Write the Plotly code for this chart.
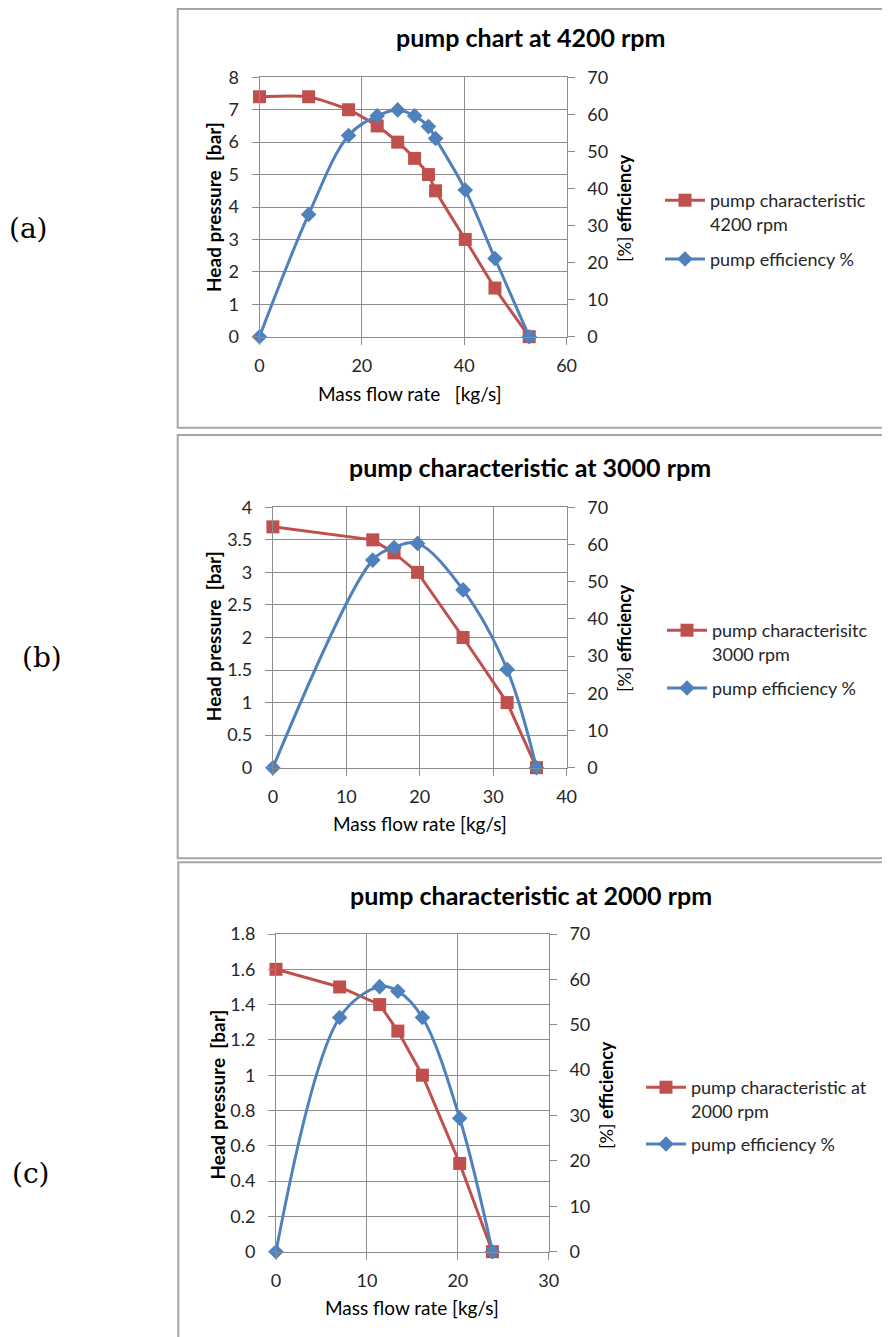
import plotly.graph_objects as go

# ---------------- data ----------------
flow_a = [0, 9.6, 17.4, 23.0, 27.0, 30.3, 33.0, 34.4, 40.2, 46.0, 52.7]
head_a = [7.4, 7.4, 7.0, 6.5, 6.0, 5.5, 5.0, 4.5, 3.0, 1.5, 0]
eff_a = [0, 33, 54.3, 59.6, 61.2, 59.6, 56.7, 53.5, 39.6, 21.1, 0]

flow_b = [0, 13.6, 16.5, 19.7, 25.9, 31.9, 35.9]
head_b = [3.7, 3.5, 3.3, 3.0, 2.0, 1.0, 0]
eff_b = [0, 55.8, 59.2, 60.3, 47.8, 26.4, 0]

flow_c = [0, 7.0, 11.4, 13.4, 16.1, 20.2, 23.8]
head_c = [1.6, 1.5, 1.4, 1.25, 1.0, 0.5, 0]
eff_c = [0, 51.6, 58.4, 57.4, 51.6, 29.4, 0]

titles = ["pump chart at 4200 rpm", "pump characteristic at 3000 rpm", "pump characteristic at 2000 rpm"]
head_names = ["pump characteristic<br>4200 rpm", "pump characterisitc<br>3000 rpm", "pump characteristic at<br>2000 rpm"]
eff_name = "pump efficiency %"
xtitles = ["Mass flow rate   [kg/s]", "Mass flow rate [kg/s]", "Mass flow rate [kg/s]"]
ytitle_left = "Head pressure  [bar]"
ytitle_right = "[%] <b>efficiency</b>"
panel_labels = ["(a)", "(b)", "(c)"]

W, H = 890, 1337
OFF = 8  # page body margin
RED = "#C0504D"
BLUE = "#4F81BD"
GRID = "#8c8c8c"
TXT = "#262626"
FONT = "Lato"


def px(x):
    return (x - OFF) / W


def py(y):
    return 1 - (y - OFF) / H


# plot areas in pixels: (x0, x1, ytop, ybottom)
areas = [(259.5, 566.6, 77.3, 336.7), (272.9, 566.6, 507.3, 767.7), (276.0, 548.8, 934.0, 1251.7)]
xranges = [[0, 60], [0, 40], [0, 30]]
xdticks = [20, 10, 10]
yranges = [[0, 8], [0, 4], [0, 1.8]]
ydticks = [1, 0.5, 0.2]
boxes = [(177.7, 886.7, 9, 427.7), (177.7, 888, 435, 858.3), (178.3, 888, 862.3, 1350)]
title_pos = [(530, 37), (530, 467), (531, 895)]
ltitle_pos = [(213.5, 207.5), (213.5, 636.7), (216.6, 1095)]
rtitle_pos = [(624, 208), (624, 638), (606, 1095)]
xtitle_pos = [(410, 393), (420, 823), (412, 1307)]
legend_pos = [(660, 182), (662, 612), (641, 1069)]
legend_gaps = [9, 8, 7]
label_pos = [(28, 228), (42, 658), (31, 1173)]

datasets = [(flow_a, head_a, eff_a), (flow_b, head_b, eff_b), (flow_c, head_c, eff_c)]

fig = go.Figure()
layout = dict(width=W, height=H, margin=dict(l=0, r=0, t=0, b=0, pad=0, autoexpand=False),
              paper_bgcolor="white", plot_bgcolor="white",
              font=dict(family=FONT, color=TXT), showlegend=True)
annotations = []
shapes = []

for i in range(3):
    xs, hs, es = datasets[i]
    xa = "x" if i == 0 else f"x{i+1}"
    yl = "y" if i == 0 else f"y{2*i+1}"
    yr = f"y{2*i+2}"
    leg = "legend" if i == 0 else f"legend{i+1}"
    fig.add_trace(go.Scatter(
        x=xs, y=hs, xaxis=xa, yaxis=yl, name=head_names[i], legend=leg,
        legendgroup=f"h{i}", mode="lines+markers",
        line=dict(color=RED, width=3, shape="spline" if i == 0 else "linear", smoothing=0.6),
        marker=dict(symbol="square", size=13, color=RED), cliponaxis=False))
    fig.add_trace(go.Scatter(
        x=xs, y=es, xaxis=xa, yaxis=yr, name=eff_name, legend=leg,
        legendgroup=f"e{i}", mode="lines+markers",
        line=dict(color=BLUE, width=3, shape="spline", smoothing=1.0),
        marker=dict(symbol="diamond", size=12, color=BLUE), cliponaxis=False))

    x0, x1, yt, yb = areas[i]
    xkey = "xaxis" if i == 0 else f"xaxis{i+1}"
    ylkey = "yaxis" if i == 0 else f"yaxis{2*i+1}"
    yrkey = f"yaxis{2*i+2}"
    tickfont = dict(family=FONT, size=18, color=TXT)
    common = dict(zeroline=False, ticks="outside", ticklen=7, tickcolor=GRID, tickfont=tickfont,
                  fixedrange=True, automargin=False)
    layout[xkey] = dict(domain=[px(x0), px(x1)], anchor=yl, range=xranges[i], dtick=xdticks[i],
                        tick0=0, showgrid=True, gridcolor=GRID, gridwidth=1,
                        showline=True, linecolor=GRID, linewidth=1, mirror=True,
                        ticklabelstandoff=6, **common)
    layout[ylkey] = dict(domain=[py(yb), py(yt)], anchor=xa, range=yranges[i], dtick=ydticks[i],
                         tick0=0, showgrid=True, gridcolor=GRID, gridwidth=1,
                         showline=True, linecolor=GRID, linewidth=1, mirror=True,
                         ticklabelstandoff=9, **common)
    layout[yrkey] = dict(overlaying=yl, anchor=xa, side="right", range=[0, 70], dtick=10, tick0=0,
                         showgrid=False, showline=True, linecolor=GRID,
                         ticklabelstandoff=9, **common)

    lx, ly = legend_pos[i]
    layout[leg] = dict(x=px(lx), y=py(ly), xanchor="left", yanchor="top", bgcolor="rgba(0,0,0,0)",
                       font=dict(family=FONT, size=18, color=TXT), itemwidth=40, valign="top",
                       tracegroupgap=legend_gaps[i], itemclick=False, itemdoubleclick=False)

    bx0, bx1, by0, by1 = boxes[i]
    shapes.append(dict(type="rect", xref="paper", yref="paper", x0=px(bx0), x1=px(bx1),
                       y0=py(by1), y1=py(by0), line=dict(color="#a6a6a6", width=2), layer="below"))

    tx, ty = title_pos[i]
    annotations.append(dict(text=f"<b>{titles[i]}</b>", x=px(tx), y=py(ty), xref="paper", yref="paper",
                            showarrow=False, xanchor="center", yanchor="middle",
                            font=dict(family=FONT, size=25, color="black")))
    tx, ty = ltitle_pos[i]
    annotations.append(dict(text=f"<b>{ytitle_left}</b>", x=px(tx), y=py(ty), xref="paper", yref="paper",
                            showarrow=False, textangle=-90, xanchor="center", yanchor="middle",
                            font=dict(family=FONT, size=19, color="black")))
    tx, ty = rtitle_pos[i]
    annotations.append(dict(text=ytitle_right, x=px(tx), y=py(ty), xref="paper", yref="paper",
                            showarrow=False, textangle=-90, xanchor="center", yanchor="middle",
                            font=dict(family=FONT, size=18, color="black")))
    tx, ty = xtitle_pos[i]
    annotations.append(dict(text=xtitles[i], x=px(tx), y=py(ty), xref="paper", yref="paper",
                            showarrow=False, xanchor="center", yanchor="middle",
                            font=dict(family=FONT, size=19, color="black")))
    tx, ty = label_pos[i]
    annotations.append(dict(text=panel_labels[i], x=px(tx), y=py(ty), xref="paper", yref="paper",
                            showarrow=False, xanchor="center", yanchor="middle",
                            font=dict(family="DejaVu Serif", size=28, color="black")))

layout["annotations"] = annotations
layout["shapes"] = shapes
fig.update_layout(**layout)
fig.write_html("out.html")
